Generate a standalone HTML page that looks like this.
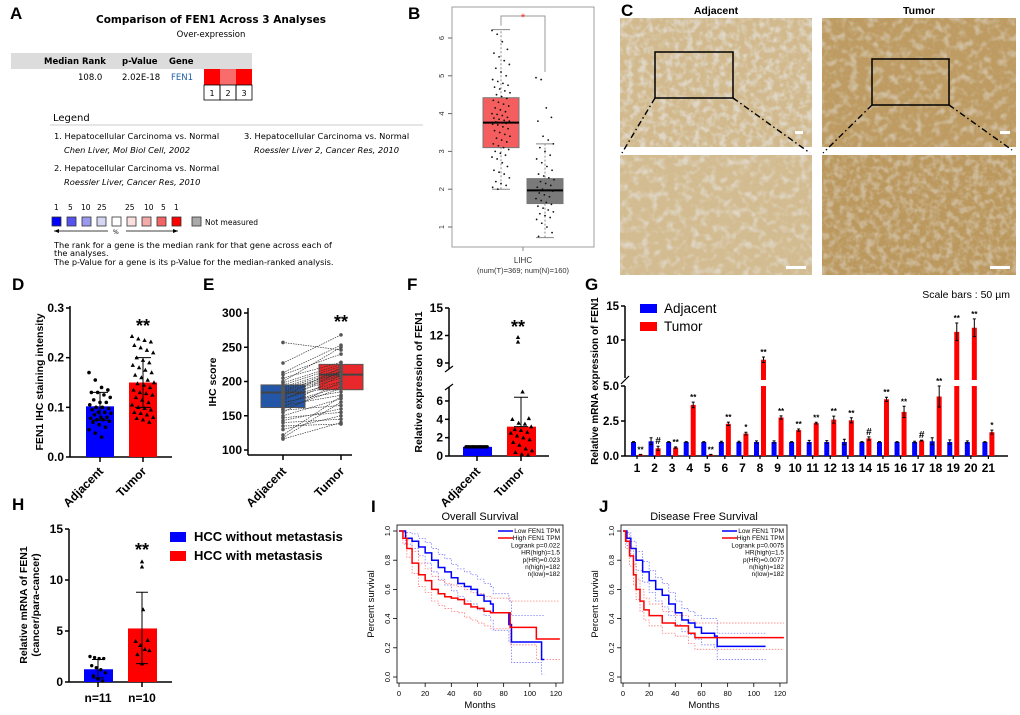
<!DOCTYPE html>
<html><head><meta charset="utf-8">
<style>
html,body{margin:0;padding:0;background:#fff;}
svg{display:block;font-family:"Liberation Sans",Arial,sans-serif;}
.lbl{font-weight:bold;font-size:17px;}
.dv{font-family:"DejaVu Sans","Liberation Sans",sans-serif;}
</style></head>
<body>
<svg id="fig" width="1020" height="715" viewBox="0 0 1020 715" xmlns="http://www.w3.org/2000/svg">
<defs>
<filter id="light" x="0" y="0" width="1" height="1"><feTurbulence type="fractalNoise" baseFrequency="0.15" numOctaves="2" seed="3"/><feColorMatrix values="0 0 0 0 0.82  0 0 0 0 0.85  0 0 0 0 0.9  -3 0 0 0 1.75"/></filter>
<filter id="dark" x="0" y="0" width="1" height="1"><feTurbulence type="fractalNoise" baseFrequency="0.25" numOctaves="2" seed="7"/><feColorMatrix values="0 0 0 0 0.6  0 0 0 0 0.45  0 0 0 0 0.25  3 0 0 0 -1.6"/></filter>
<filter id="light2" x="0" y="0" width="1" height="1"><feTurbulence type="fractalNoise" baseFrequency="0.12" numOctaves="2" seed="11"/><feColorMatrix values="0 0 0 0 0.82  0 0 0 0 0.84  0 0 0 0 0.88  -3 0 0 0 1.6"/></filter>
</defs>

<!-- Panel A -->
<g>
<text class="lbl" x="10" y="19">A</text>
<text class="dv" x="211" y="23" font-size="10.5" font-weight="bold" text-anchor="middle">Comparison of FEN1 Across 3 Analyses</text>
<text class="dv" x="211" y="37" font-size="8.5" text-anchor="middle">Over-expression</text>
<rect x="11" y="53" width="241" height="16" fill="#dcdcdc"/>
<text class="dv" x="44" y="64" font-size="8.5" font-weight="bold">Median Rank</text>
<text class="dv" x="122" y="64" font-size="8.5" font-weight="bold">p-Value</text>
<text class="dv" x="169" y="64" font-size="8.5" font-weight="bold">Gene</text>
<text class="dv" x="78" y="80" font-size="8.5">108.0</text>
<text class="dv" x="122" y="80" font-size="8.5">2.02E-18</text>
<text class="dv" x="171" y="80" font-size="8.5" fill="#1f5fa8">FEN1</text>
<rect x="204" y="69" width="16" height="16" fill="#ff0000"/>
<rect x="220" y="69" width="16" height="16" fill="#f86c6c"/>
<rect x="236" y="69" width="16" height="16" fill="#ff0000"/>
<g fill="none" stroke="#000" stroke-width="0.8"><rect x="204" y="85" width="16" height="15"/><rect x="220" y="85" width="16" height="15"/><rect x="236" y="85" width="16" height="15"/></g>
<text class="dv" x="212" y="96" font-size="8" text-anchor="middle">1</text><text class="dv" x="228" y="96" font-size="8" text-anchor="middle">2</text><text class="dv" x="244" y="96" font-size="8" text-anchor="middle">3</text>
<text class="dv" x="53" y="121" font-size="10">Legend</text>
<line x1="50" y1="125" x2="423" y2="125" stroke="#ccc" stroke-width="1"/>
<g class="dv" font-size="8.3">
<text x="54" y="139">1. Hepatocellular Carcinoma vs. Normal</text>
<text x="64" y="153" font-style="italic">Chen Liver, Mol Biol Cell, 2002</text>
<text x="54" y="171">2. Hepatocellular Carcinoma vs. Normal</text>
<text x="64" y="185" font-style="italic">Roessler Liver, Cancer Res, 2010</text>
<text x="244" y="139">3. Hepatocellular Carcinoma vs. Normal</text>
<text x="254" y="153" font-style="italic">Roessler Liver 2, Cancer Res, 2010</text>
</g>
<g class="dv" font-size="7.5">
<text x="54" y="210">1</text><text x="68" y="210">5</text><text x="81" y="210">10</text><text x="97" y="210">25</text>
<text x="125" y="210">25</text><text x="144" y="210">10</text><text x="161" y="210">5</text><text x="174" y="210">1</text>
<g stroke="#333" stroke-width="0.8">
<rect x="52" y="217" width="9" height="9" fill="#0000ff"/><rect x="67" y="217" width="9" height="9" fill="#5555ee"/><rect x="82" y="217" width="9" height="9" fill="#9999ee"/><rect x="97" y="217" width="9" height="9" fill="#d6d6f5"/><rect x="112" y="217" width="9" height="9" fill="#fff"/><rect x="127" y="217" width="9" height="9" fill="#fbe0e0"/><rect x="142" y="217" width="9" height="9" fill="#f5aaaa"/><rect x="157" y="217" width="9" height="9" fill="#f26464"/><rect x="172" y="217" width="9" height="9" fill="#ff0000"/>
<rect x="192" y="217" width="9" height="9" fill="#aaa"/></g>
<text x="205" y="225">Not measured</text>
<line x1="54" y1="231" x2="108" y2="231" stroke="#000" stroke-width="0.7"/><path d="M54 231 l5 -2 v4z"/>
<line x1="126" y1="231" x2="178" y2="231" stroke="#000" stroke-width="0.7"/><path d="M178 231 l-5 -2 v4z"/>
<text x="113" y="234" font-size="6">%</text>
</g>
<g class="dv" font-size="8.2">
<text x="54" y="248">The rank for a gene is the median rank for that gene across each of</text>
<text x="54" y="256">the analyses.</text>
<text x="54" y="265">The p-Value for a gene is its p-Value for the median-ranked analysis.</text>
</g>
</g>

<!-- Panel B static -->
<g>
<text class="lbl" x="408" y="19">B</text>
<rect x="452" y="7" width="142" height="240" fill="none" stroke="#888" stroke-width="0.8"/>
<text x="523" y="263" font-size="8" text-anchor="middle" fill="#333">LIHC</text>
<text x="523" y="273" font-size="7.5" text-anchor="middle" fill="#333">(num(T)=369; num(N)=160)</text>
<line x1="523" y1="247" x2="523" y2="251" stroke="#888"/>
</g>

<!-- Panel C -->
<g>
<text class="lbl" x="621" y="16">C</text>
<text x="716" y="14" font-size="10.5" font-weight="bold" text-anchor="middle">Adjacent</text>
<text x="919" y="14" font-size="10.5" font-weight="bold" text-anchor="middle">Tumor</text>
<g>
<rect x="620" y="18" width="192" height="129" fill="#d2ba8e"/><rect x="620" y="18" width="192" height="129" filter="url(#light)" opacity="0.55"/><rect x="620" y="18" width="192" height="129" filter="url(#dark)" opacity="0.35"/>
<rect x="655" y="52" width="78" height="46" fill="none" stroke="#000" stroke-width="1.5"/>
<rect x="795" y="131" width="8" height="3" fill="#fff"/></g>
<g>
<rect x="822" y="18" width="194" height="129" fill="#bd9b62"/><rect x="822" y="18" width="194" height="129" filter="url(#light2)" opacity="0.45"/><rect x="822" y="18" width="194" height="129" filter="url(#dark)" opacity="0.45"/>
<rect x="872" y="59" width="77" height="46" fill="none" stroke="#000" stroke-width="1.5"/>
<rect x="1000" y="131" width="10" height="3" fill="#fff"/></g>
<g>
<rect x="620" y="155" width="192" height="120" fill="#d3bc91"/><rect x="620" y="155" width="192" height="120" filter="url(#light2)" opacity="0.55"/><rect x="620" y="155" width="192" height="120" filter="url(#dark)" opacity="0.3"/>
<rect x="786" y="266" width="20" height="3" fill="#fff"/></g>
<g>
<rect x="822" y="155" width="194" height="120" fill="#bb985e"/><rect x="822" y="155" width="194" height="120" filter="url(#light)" opacity="0.4"/><rect x="822" y="155" width="194" height="120" filter="url(#dark)" opacity="0.45"/>
<rect x="990" y="266" width="20" height="3" fill="#fff"/></g>
<g stroke="#000" stroke-width="1.4" stroke-dasharray="6,3,1.5,3" fill="none">
<line x1="655" y1="98" x2="622" y2="153"/><line x1="733" y1="98" x2="810" y2="153"/>
<line x1="872" y1="105" x2="823" y2="153"/><line x1="949" y1="105" x2="1012" y2="150"/>
</g>
<text x="1010" y="298" font-size="10.5" text-anchor="end">Scale bars : 50 µm</text>
</g>

<!-- static labels -->
<text class="lbl" x="12" y="290">D</text>
<text class="lbl" x="203" y="290">E</text>
<text class="lbl" x="407" y="290">F</text>
<text class="lbl" x="585" y="290">G</text>
<text class="lbl" x="12" y="510">H</text>
<text class="lbl" x="371" y="512">I</text>
<text class="lbl" x="599" y="512">J</text>

<g font-weight="bold" font-size="10.5">
<text transform="translate(43,382) rotate(-90)" text-anchor="middle">FEN1 IHC staining intensity</text>
<text transform="translate(216,382) rotate(-90)" text-anchor="middle">IHC score</text>
<text transform="translate(422,382) rotate(-90)" text-anchor="middle">Relative expression of FEN1</text>
<text transform="translate(598,381) rotate(-90)" text-anchor="middle" font-size="10">Relative mRNA expression of FEN1</text>
<text transform="translate(27,605) rotate(-90)" text-anchor="middle">Relative mRNA of FEN1</text>
<text transform="translate(39,605) rotate(-90)" text-anchor="middle">(cancer/para-cancer)</text>
</g>
<g id="gCharts"></g>
</svg>

<script>
// ---------- data ----------
const bTumor=[6.2,6.1,5.9,5.7,5.6,5.5,5.4,5.3,5.2,5.1,5.0,4.9,4.85,4.8,4.75,4.7,4.65,4.6,4.55,4.5,4.45,4.4,4.35,4.3,4.25,4.2,4.15,4.1,4.05,4.0,3.98,3.95,3.9,3.88,3.85,3.82,3.8,3.78,3.76,3.74,3.72,3.7,3.65,3.6,3.55,3.5,3.45,3.4,3.35,3.3,3.25,3.2,3.15,3.1,3.05,3.0,2.95,2.9,2.85,2.8,2.7,2.6,2.5,2.45,2.4,2.3,2.2,2.15,2.1,2.05,2.0];
const bNormal=[4.95,4.9,4.15,3.9,3.8,3.4,3.3,3.2,3.1,3.0,2.9,2.8,2.7,2.6,2.5,2.4,2.35,2.3,2.25,2.2,2.15,2.1,2.05,2.0,1.98,1.95,1.9,1.85,1.8,1.75,1.7,1.65,1.6,1.55,1.5,1.45,1.4,1.35,1.3,1.25,1.2,1.1,1.0,0.85,0.75];
const bTumorBox=[2.0,3.1,3.76,4.42,6.22];
const bNormalBox=[0.72,1.62,1.97,2.28,3.2];
const bTicks=[1,2,3,4,5,6];

const dCategories=['Adjacent','Tumor'];
const dMeans=[0.102,0.15];
const dErrLow=[0.074,0.1];
const dErrHigh=[0.13,0.2];
const dAdj=[0.17,0.155,0.14,0.135,0.13,0.13,0.125,0.12,0.115,0.11,0.11,0.105,0.1,0.1,0.098,0.095,0.09,0.09,0.088,0.085,0.08,0.08,0.078,0.075,0.075,0.072,0.07,0.065,0.06,0.055,0.048,0.04];
const dTum=[0.243,0.238,0.235,0.232,0.225,0.22,0.215,0.21,0.2,0.195,0.19,0.185,0.18,0.175,0.17,0.165,0.16,0.155,0.15,0.148,0.145,0.14,0.135,0.13,0.128,0.125,0.12,0.115,0.11,0.105,0.1,0.098,0.095,0.09,0.088,0.085,0.08,0.078,0.075,0.07];
const dTicks=[0,0.1,0.2,0.3];

const eAdj=[257,227,213,210,205,200,198,195,192,190,188,186,185,183,180,178,176,175,172,170,168,165,162,160,158,155,150,147,143,140,135,130,122,118,116];
const eTum=[246,268,253,240,228,250,225,222,218,215,212,214,210,208,205,220,200,196,215,185,192,180,210,190,165,200,175,155,160,145,138,150,178,170,140];
const eAdjBox=[162,184,195];
const eTumBox=[188,210,225];
const eTicks=[100,150,200,250,300];

const fMeans=[1.0,3.2];
const fErrHigh=[1.05,6.4];
const fAdjPts=[1,1,1,1,1,1,1,1,1,1,1,1,1,1,1,1,1,1];
const fTumPts=[11.8,11.3,7.0,4.1,4.0,3.6,3.5,3.2,2.9,2.8,2.6,2.5,2.2,2.0,1.8,1.5,1.2,0.8,0.6,0.4,0.2,0.1];
const fTicks=[0,2,4,6,9,12,15];

const gGroups=['1','2','3','4','5','6','7','8','9','10','11','12','13','14','15','16','17','18','19','20','21'];
const gAdjacent=[1,1.05,1,1,1,1,1,1,1,1,1,1,1,1,1,1,1,1.05,1,1,1];
const gAdjErr=[0.03,0.25,0.03,0.03,0.03,0.05,0.05,0.08,0.08,0.03,0.12,0.1,0.2,0.03,0.03,0.03,0.05,0.25,0.15,0.08,0.03];
const gTumor=[0.1,0.55,0.6,3.65,0.1,2.3,1.6,7.1,2.75,1.85,2.35,2.6,2.55,1.25,4.05,3.15,1.1,4.25,11.2,11.8,1.7];
const gTumErr=[0.02,0.15,0.05,0.2,0.02,0.12,0.1,0.4,0.12,0.08,0.06,0.25,0.18,0.12,0.15,0.4,0.03,0.75,1.3,1.3,0.15];
const gSig=['**','#','**','**','**','**','*','**','**','**','**','**','**','#','**','**','#','**','**','**','*'];
const gTicks=[0,2.5,5,10,15];
const gTickLabels=['0.0','2.5','5.0','10','15'];

const hMeans=[1.25,5.25];
const hErrLow=[0.4,1.8];
const hErrHigh=[2.2,8.8];
const hBlue=[2.5,2.4,2.3,2.3,1.6,1.4,1.2,0.9,0.6,0.3,0.1];
const hRed=[11.8,11.3,7.1,4.1,4.0,3.6,3.2,3.1,2.7,1.8];
const hTicks=[0,5,10,15];
const hCats=['n=11','n=10'];

const osLowT=[0,5,10,15,20,25,30,35,40,45,50,55,60,65,70,72,84,86,109,111];
const osLowS=[1,0.95,0.93,0.89,0.85,0.8,0.75,0.72,0.68,0.64,0.62,0.6,0.56,0.52,0.5,0.44,0.36,0.24,0.12,0.12];
const osHighT=[0,3,6,10,15,20,25,30,35,40,45,50,55,60,65,70,85,105,123];
const osHighS=[1,0.95,0.88,0.78,0.7,0.66,0.6,0.57,0.55,0.54,0.53,0.5,0.48,0.47,0.45,0.44,0.34,0.26,0.26];
const osLowUp=[1,0.99,0.98,0.95,0.92,0.88,0.84,0.81,0.77,0.74,0.72,0.7,0.67,0.64,0.62,0.57,0.52,0.42,0.42,0.42];
const osLowDn=[1,0.91,0.88,0.83,0.78,0.72,0.67,0.63,0.59,0.55,0.52,0.5,0.46,0.42,0.39,0.32,0.24,0.1,0.02,0.02];
const osHighUp=[1,0.99,0.94,0.86,0.78,0.74,0.69,0.66,0.64,0.63,0.62,0.6,0.58,0.57,0.55,0.54,0.52,0.52,0.52];
const osHighDn=[1,0.91,0.82,0.71,0.62,0.58,0.52,0.49,0.47,0.45,0.44,0.41,0.39,0.37,0.35,0.33,0.22,0.12,0.12];
const dfsLowT=[0,3,6,10,15,20,25,30,35,40,45,50,55,60,70,72,109];
const dfsLowS=[1,0.95,0.88,0.8,0.72,0.66,0.6,0.56,0.5,0.44,0.39,0.37,0.34,0.3,0.28,0.21,0.21];
const dfsHighT=[0,2,5,8,10,13,16,20,30,40,50,55,123];
const dfsHighS=[1,0.93,0.83,0.7,0.6,0.52,0.46,0.42,0.37,0.35,0.3,0.27,0.27];
const dfsLowUp=[1,0.99,0.93,0.86,0.79,0.73,0.68,0.64,0.58,0.52,0.47,0.45,0.42,0.4,0.4,0.3,0.3];
const dfsLowDn=[1,0.9,0.82,0.73,0.65,0.58,0.52,0.48,0.42,0.36,0.31,0.29,0.26,0.22,0.2,0.12,0.12];
const dfsHighUp=[1,0.98,0.89,0.77,0.67,0.6,0.54,0.5,0.45,0.42,0.39,0.37,0.37];
const dfsHighDn=[1,0.88,0.76,0.63,0.53,0.45,0.39,0.35,0.3,0.28,0.23,0.19,0.19];
const survTicksX=[0,20,40,60,80,100,120];
const survTicksY=[0,0.2,0.4,0.6,0.8,1.0];

// ---------- helpers ----------
const NS='http://www.w3.org/2000/svg';
const root=document.getElementById('gCharts');
function mk(tag,attrs,parent){const e=document.createElementNS(NS,tag);for(const k in attrs)e.setAttribute(k,attrs[k]);(parent||root).appendChild(e);return e;}
function jit(i,w){return ((i*37)%29-14)/14*w;}
let el;

// ---------- Panel B ----------
const yB=v=>227-(v-1)*37.8;
bTicks.forEach(t=>{
  el=mk('line',{x1:448,y1:yB(t),x2:452,y2:yB(t),stroke:'#666'});
  
  
  el=mk('text',{x:0,y:0,transform:`translate(444,${yB(t)}) rotate(-90)`,'font-size':7.5,'text-anchor':'middle',fill:'#333'});
  
  
  el.textContent=t;
});
function boxB(s,x0,x1,fill,name){
  const c=(x0+x1)/2;
  el=mk('line',{x1:c,y1:yB(s[0]),x2:c,y2:yB(s[4]),stroke:'#888','stroke-dasharray':'2,2'});
  
  
  [s[0],s[4]].forEach(v=>{el=mk('line',{x1:c-9,y1:yB(v),x2:c+9,y2:yB(v),stroke:'#888'});
  
  });
  el=mk('rect',{x:x0,y:yB(s[3]),width:x1-x0,height:yB(s[1])-yB(s[3]),fill:fill,stroke:'#777'});
  
  
  el=mk('line',{x1:x0,y1:yB(s[2]),x2:x1,y2:yB(s[2]),stroke:'#000','stroke-width':2});
  
  
}
boxB(bTumorBox,483,519,'#f45e5e','b-tumor');
boxB(bNormalBox,527,563,'#7a7a7a','b-normal');
bTumor.forEach((v,i)=>{el=mk('circle',{cx:501+jit(i,9),cy:yB(v),r:0.9,fill:'#111'});
  
  });
bNormal.forEach((v,i)=>{el=mk('circle',{cx:545+jit(i,9),cy:yB(v),r:0.9,fill:'#111'});
  
  });
el=mk('path',{d:`M501 ${yB(bTumorBox[4])-4} V16 H545 V${yB(5.1)}`,fill:'none',stroke:'#999'});


el=mk('text',{x:523,y:21,'font-size':11,fill:'#f33','text-anchor':'middle'});


el.textContent='*';

// ---------- generic axes ----------
function yAxis(x,yTop,yBot,ticks,yf,labels,name,fs){
  el=mk('line',{x1:x,y1:yTop,x2:x,y2:yBot,stroke:'#000','stroke-width':1.5});
  
  
  ticks.forEach((t,i)=>{
    el=mk('line',{x1:x-4,y1:yf(t),x2:x,y2:yf(t),stroke:'#000','stroke-width':1.5});
    
    
    el=mk('text',{x:x-6,y:yf(t)+4,'text-anchor':'end','font-size':fs||12,'font-weight':'bold'});
    
    
    el.textContent=labels?labels[i]:t;
  });
}
function xAxis(x0,x1,y,name){
  el=mk('line',{x1:x0,y1:y,x2:x1,y2:y,stroke:'#000','stroke-width':1.5});
  
  
}
function rotLabel(x,y,txt,name){
  el=mk('text',{transform:`translate(${x},${y}) rotate(-45)`,'text-anchor':'end','font-size':12,'font-weight':'bold'});
  
  
  el.textContent=txt;
}
function errBar(x,y1,y2,w,name){
  el=mk('path',{d:`M${x} ${y1} V${y2} M${x-w} ${y1} H${x+w} M${x-w} ${y2} H${x+w}`,stroke:'#000','stroke-width':1,fill:'none'});
  
  
}
function stars(x,y,t,fs,name){
  el=mk('text',{x:x,y:y,'text-anchor':'middle','font-size':fs,'font-weight':'bold'});
  
  
  el.textContent=t;
}

// ---------- Panel D ----------
const yD=v=>457-v/0.3*149;
const xD=[100,143];
yAxis(70,306,457,dTicks,yD,['0.0','0.1','0.2','0.3'],'d');
xAxis(70,172,457,'d');
dMeans.forEach((m,i)=>{
  el=mk('rect',{x:xD[i]-14,y:yD(m),width:28,height:457-yD(m),fill:i?'#ff0000':'#0000ff'});
  
  
  el=mk('line',{x1:xD[i],y1:457,x2:xD[i],y2:462,stroke:'#000','stroke-width':1.5});
  
  
  rotLabel(xD[i]+4,472,dCategories[i],'d-x-label');
});
dAdj.forEach((v,i)=>{el=mk('circle',{cx:xD[0]+jit(i,11),cy:yD(v),r:1.8,fill:'#000'});
  
  });
dTum.forEach((v,i)=>{const x=xD[1]+jit(i,11),y=yD(v);el=mk('path',{d:`M${x} ${y-2.3} L${x+2.2} ${y+1.7} L${x-2.2} ${y+1.7}Z`,fill:'#000'});
  
  });
dMeans.forEach((m,i)=>errBar(xD[i],yD(dErrLow[i]),yD(dErrHigh[i]),8,'d-error-bar'));
stars(xD[1],332,'**',18,'d-significance');

// ---------- Panel E ----------
const yE=v=>450-(v-100)*0.685;
const xE=[283,341];
yAxis(248,308,455,eTicks,yE,null,'e');
xAxis(248,352,455,'e');
[eAdjBox,eTumBox].forEach((b,i)=>{
  el=mk('rect',{x:xE[i]-22,y:yE(b[2]),width:44,height:yE(b[0])-yE(b[2]),fill:i?'#e8282a':'#2456a8',stroke:'#555','stroke-width':1});
  
  
  el=mk('line',{x1:xE[i]-22,y1:yE(b[1]),x2:xE[i]+22,y2:yE(b[1]),stroke:'#444','stroke-width':2});
  
  
  el=mk('line',{x1:xE[i],y1:455,x2:xE[i],y2:460,stroke:'#000','stroke-width':1.5});
  
  
  rotLabel(xE[i]+4,472,dCategories[i],'e-x-label');
});
eAdj.forEach((v,i)=>{
  el=mk('line',{x1:xE[0],y1:yE(v),x2:xE[1],y2:yE(eTum[i]),stroke:'#333','stroke-width':0.7,'stroke-dasharray':'1.5,1'});
  
  
  el=mk('circle',{cx:xE[0],cy:yE(v),r:1.8,fill:'#555'});
  
  
  el=mk('circle',{cx:xE[1],cy:yE(eTum[i]),r:1.8,fill:'#555'});
  
  
});
stars(xE[1],328,'**',18,'e-significance');

// ---------- Panel F ----------
const yF=v=>v<=7.5?456-v*9.17:363-(v-9)*9.17;
const xF=[477,521];
el=mk('line',{x1:449,y1:308,x2:449,y2:369,stroke:'#000','stroke-width':1.5});


el=mk('line',{x1:449,y1:387,x2:449,y2:456,stroke:'#000','stroke-width':1.5});


el=mk('path',{d:'M445 372 L453 366 M445 390 L453 384',stroke:'#000','stroke-width':1.2});


fTicks.forEach(t=>{
  el=mk('line',{x1:445,y1:yF(t),x2:449,y2:yF(t),stroke:'#000','stroke-width':1.5});
  
  
  el=mk('text',{x:443,y:yF(t)+4,'text-anchor':'end','font-size':12,'font-weight':'bold'});
  
  
  el.textContent=t;
});
xAxis(449,549,456,'f');
fMeans.forEach((m,i)=>{
  el=mk('rect',{x:xF[i]-14,y:yF(m),width:29,height:456-yF(m),fill:i?'#ff0000':'#0000ff'});
  
  
  errBar(xF[i],yF(m),yF(fErrHigh[i]),7,'f-error-bar');
  el=mk('line',{x1:xF[i],y1:456,x2:xF[i],y2:461,stroke:'#000','stroke-width':1.5});
  
  
  rotLabel(xF[i]+4,472,dCategories[i],'f-x-label');
});
fAdjPts.forEach((v,i)=>{el=mk('circle',{cx:xF[0]+jit(i,11),cy:yF(v),r:1.7,fill:'#000'});
  
  });
fTumPts.forEach((v,i)=>{const x=xF[1]+(v>9?-3:jit(i,11)),y=yF(v);el=mk('path',{d:`M${x} ${y-2.3} L${x+2.2} ${y+1.7} L${x-2.2} ${y+1.7}Z`,fill:'#000'});
  
  });
stars(xF[1]-3,333,'**',18,'f-significance');

// ---------- Panel G ----------
const yG=v=>v<=5?456-v*14:340-(v-10)*6.8;
const xG=i=>637+i*17.57;
el=mk('line',{x1:625,y1:306,x2:625,y2:378,stroke:'#000','stroke-width':1.5});


el=mk('line',{x1:625,y1:386,x2:625,y2:456,stroke:'#000','stroke-width':1.5});


el=mk('path',{d:'M621 384 L629 376',stroke:'#000','stroke-width':1.2});


gTicks.forEach((t,i)=>{
  el=mk('line',{x1:621,y1:yG(t),x2:625,y2:yG(t),stroke:'#000','stroke-width':1.5});
  
  
  el=mk('text',{x:619,y:yG(t)+4,'text-anchor':'end','font-size':11.5,'font-weight':'bold'});
  
  
  el.textContent=gTickLabels[i];
});
xAxis(625,1008,456,'g');
gGroups.forEach((g,i)=>{
  const c=xG(i);
  el=mk('rect',{x:c-6,y:yG(gAdjacent[i]),width:5,height:456-yG(gAdjacent[i]),fill:'#0000ff'});
  
  
  errBar(c-3.5,yG(gAdjacent[i]-gAdjErr[i]),yG(gAdjacent[i]+gAdjErr[i]),1.5,'g-error-adjacent');
  const v=gTumor[i];
  if(v<=5){
    el=mk('rect',{x:c+1,y:yG(v),width:5,height:456-yG(v),fill:'#ff0000'});
    
    
  } else {
    el=mk('rect',{x:c+1,y:386,width:5,height:70,fill:'#ff0000'});
    
    
    el=mk('rect',{x:c+1,y:yG(v),width:5,height:380-yG(v),fill:'#ff0000'});
    
    
  }
  const top=yG(v+gTumErr[i]);
  errBar(c+3.5,yG(Math.max(v-gTumErr[i],0)),top,1.5,'g-error-tumor');
  stars(c+3.5,top-2,gSig[i],gSig[i]==='#'?10:8,'g-significance');
  el=mk('line',{x1:c,y1:456,x2:c,y2:459,stroke:'#000','stroke-width':1.2});
  
  
  el=mk('text',{x:c,y:472,'text-anchor':'middle','font-size':12,'font-weight':'bold'});
  
  
  el.textContent=g;
});
el=mk('rect',{x:640,y:304,width:17,height:9,fill:'#0000ff'});


el=mk('text',{x:664,y:313,'font-size':13.5});


el.textContent='Adjacent';
el=mk('rect',{x:640,y:322,width:17,height:9,fill:'#ff0000'});


el=mk('text',{x:664,y:331,'font-size':13.5});


el.textContent='Tumor';

// ---------- Panel H ----------
const yH=v=>682-v*10.2;
const xH=[98,142];
yAxis(69,529,682,hTicks,yH,null,'h');
xAxis(69,172,682,'h');
hMeans.forEach((m,i)=>{
  el=mk('rect',{x:xH[i]-14,y:yH(m),width:29,height:682-yH(m),fill:i?'#ff0000':'#0000ff'});
  
  
  errBar(xH[i],yH(hErrLow[i]),yH(hErrHigh[i]),6,'h-error-bar');
  el=mk('line',{x1:xH[i],y1:682,x2:xH[i],y2:687,stroke:'#000','stroke-width':1.5});
  
  
  el=mk('text',{x:xH[i],y:702,'text-anchor':'middle','font-size':12,'font-weight':'bold'});
  
  
  el.textContent=hCats[i];
});
hBlue.forEach((v,i)=>{el=mk('circle',{cx:xH[0]+jit(i,8),cy:yH(v),r:1.7,fill:'#000'});
  
  });
hRed.forEach((v,i)=>{const x=xH[1]+(v>9?0:jit(i,8)),y=yH(v);el=mk('path',{d:`M${x} ${y-2.3} L${x+2.2} ${y+1.7} L${x-2.2} ${y+1.7}Z`,fill:'#000'});
  
  });
stars(xH[1],556,'**',18,'h-significance');
el=mk('rect',{x:170,y:532,width:16,height:10,fill:'#0000ff'});


el=mk('text',{x:194,y:541,'font-size':13,'font-weight':'bold'});


el.textContent='HCC without metastasis';
el=mk('rect',{x:170,y:551,width:16,height:10,fill:'#ff0000'});


el=mk('text',{x:194,y:560,'font-size':13,'font-weight':'bold'});


el.textContent='HCC with metastasis';

// ---------- Panels I & J ----------
function survPanel(x0,x1,title,name,curves,legendLines){
  const sx=t=>x0+2+t*1.308, sy=s=>677-s*146;
  el=mk('rect',{x:x0,y:525,width:x1-x0,height:158,fill:'none',stroke:'#000','stroke-width':0.8});
  
  
  el=mk('text',{x:(x0+x1)/2,y:520,'text-anchor':'middle','font-size':11});
  
  
  el.textContent=title;
  el=mk('text',{x:(x0+x1)/2,y:708,'text-anchor':'middle','font-size':9.5});
  
  
  el.textContent='Months';
  el=mk('text',{transform:`translate(${x0-23},604) rotate(-90)`,'text-anchor':'middle','font-size':9.5});
  
  
  el.textContent='Percent survival';
  survTicksX.forEach(t=>{
    el=mk('line',{x1:sx(t),y1:683,x2:sx(t),y2:687,stroke:'#000','stroke-width':0.8});
    
    
    el=mk('text',{x:sx(t),y:696,'text-anchor':'middle','font-size':7.5});
    
    
    el.textContent=t;
  });
  survTicksY.forEach(t=>{
    el=mk('line',{x1:x0-4,y1:sy(t),x2:x0,y2:sy(t),stroke:'#000','stroke-width':0.8});
    
    
    el=mk('text',{transform:`translate(${x0-7},${sy(t)}) rotate(-90)`,'text-anchor':'middle','font-size':7.5});
    
    
    el.textContent=t.toFixed(1);
  });
  curves.forEach(c=>{
    let d='M'+sx(c.t[0])+' '+sy(c.s[0]);
    for(let k=1;k<c.t.length;k++){d+=' H'+sx(c.t[k])+' V'+sy(c.s[k]);}
    el=mk('path',{d:d,fill:'none',stroke:c.col,'stroke-width':c.dash?0.7:1.5,'stroke-dasharray':c.dash?'1.5,1.5':'none',opacity:c.dash?0.6:1});
    
    
  });
  legendLines.forEach((l,k)=>{
    if(k<2){
      el=mk('line',{x1:x1-65,y1:531+k*7,x2:x1-50,y2:531+k*7,stroke:k?'#ff0000':'#0000ff','stroke-width':1.5});
      
      
    }
    el=mk('text',{x:x1-3,y:533+k*7.2,'text-anchor':'end','font-size':6.5});
    
    
    el.textContent=l;
  });
}
survPanel(397,563,'Overall Survival','i',[
  {t:osLowT,s:osLowUp,col:'#0000ff',dash:1,n:'low-ci-upper'},
  {t:osLowT,s:osLowDn,col:'#0000ff',dash:1,n:'low-ci-lower'},
  {t:osHighT,s:osHighUp,col:'#ff0000',dash:1,n:'high-ci-upper'},
  {t:osHighT,s:osHighDn,col:'#ff0000',dash:1,n:'high-ci-lower'},
  {t:osLowT,s:osLowS,col:'#0000ff',n:'low-curve'},
  {t:osHighT,s:osHighS,col:'#ff0000',n:'high-curve'}],
  ['Low FEN1 TPM','High FEN1 TPM','Logrank p=0.022','HR(high)=1.5','p(HR)=0.023','n(high)=182','n(low)=182']);
survPanel(621,787,'Disease Free Survival','j',[
  {t:dfsLowT,s:dfsLowUp,col:'#0000ff',dash:1,n:'low-ci-upper'},
  {t:dfsLowT,s:dfsLowDn,col:'#0000ff',dash:1,n:'low-ci-lower'},
  {t:dfsHighT,s:dfsHighUp,col:'#ff0000',dash:1,n:'high-ci-upper'},
  {t:dfsHighT,s:dfsHighDn,col:'#ff0000',dash:1,n:'high-ci-lower'},
  {t:dfsLowT,s:dfsLowS,col:'#0000ff',n:'low-curve'},
  {t:dfsHighT,s:dfsHighS,col:'#ff0000',n:'high-curve'}],
  ['Low FEN1 TPM','High FEN1 TPM','Logrank p=0.0075','HR(high)=1.5','p(HR)=0.0077','n(high)=182','n(low)=182']);
</script>
</body></html>
